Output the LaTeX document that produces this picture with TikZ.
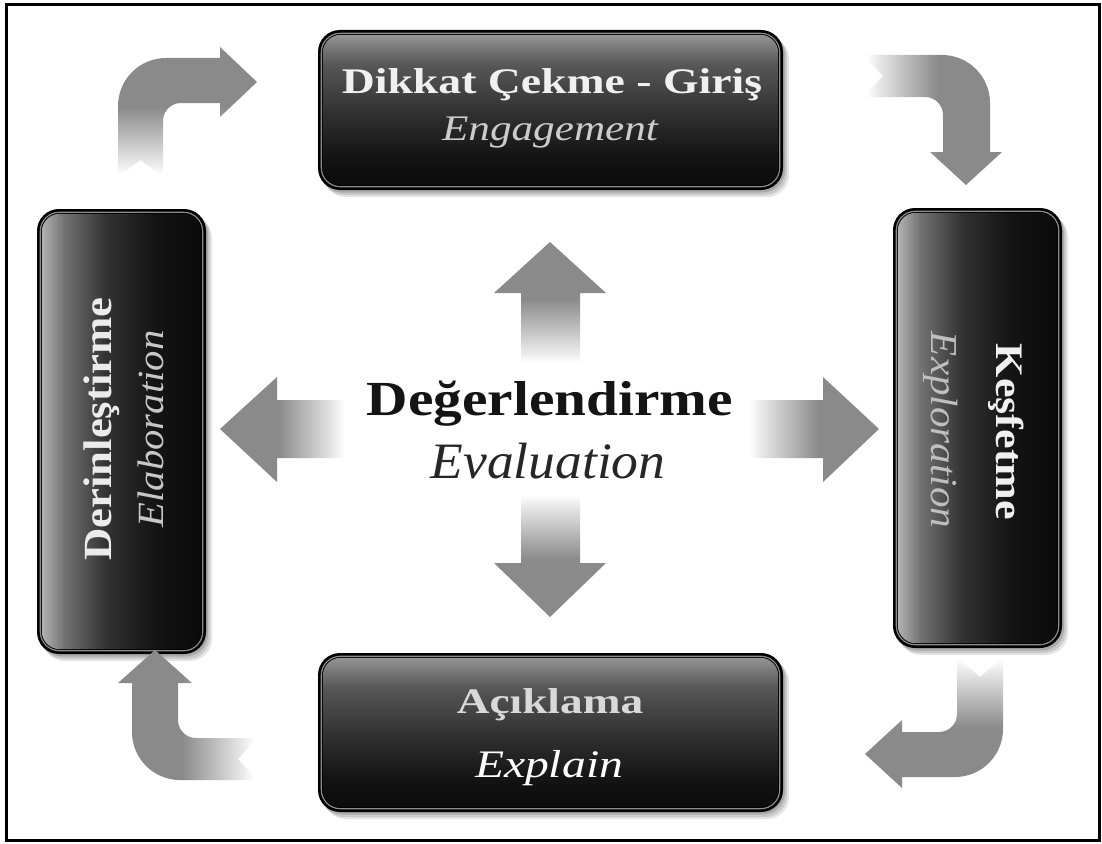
\documentclass[tikz,border=0pt]{standalone}
\usepackage{fontspec}
\setmainfont{Liberation Serif}
\usepackage{graphicx}
\definecolor{ag}{gray}{0.54}
\pgfdeclareverticalshading{fadeup}{100bp}{color(0bp)=(white); color(26bp)=(white); color(30bp)=(black!8); color(52bp)=(ag); color(100bp)=(ag)}
\pgfdeclareverticalshading{boxv}{100bp}{color(0bp)=(black!96); color(25bp)=(black!96); color(35bp)=(black!92); color(50bp)=(black!80); color(65bp)=(black!66); color(71bp)=(black!52); color(75bp)=(black!42); color(100bp)=(black!42)}
\pgfdeclarehorizontalshading{boxh}{100bp}{color(0bp)=(black!30); color(25bp)=(black!30); color(32bp)=(black!55); color(45bp)=(black!80); color(60bp)=(black!92); color(75bp)=(black!96); color(100bp)=(black!96)}
\begin{document}
\begin{tikzpicture}[x=1pt,y=-1pt,
  boxout/.style={rectangle, rounded corners=22pt, fill=black, inner sep=0pt,
    preaction={fill=black, opacity=.10, transform canvas={shift={(6pt,-7pt)}}},
    preaction={fill=black, opacity=.12, transform canvas={shift={(4pt,-5pt)}}},
    preaction={fill=black, opacity=.15, transform canvas={shift={(2pt,-2.5pt)}}}},
  rim/.style={draw=black!45, line width=1.2pt, rounded corners=19pt},
  blockarrow/.style={shading=fadeup},
  label/.style={anchor=base, inner sep=0pt}
]
\useasboundingbox (0,0) rectangle (1102,843);
\fill[white] (0,0) rectangle (1102,843);
\draw[line width=3pt] (6.5,4.5) rectangle (1099.5,840.5);

% ---- boxes ----
\node[boxout, minimum width=465pt, minimum height=160pt] (eng) at (550.5,110) {};
\node[boxout, minimum width=465pt, minimum height=159pt] (expl) at (550.5,732.5) {};
\node[boxout, minimum width=169pt, minimum height=445pt] (elab) at (121.5,431.5) {};
\node[boxout, minimum width=169pt, minimum height=440pt] (explo) at (977.5,428) {};

\draw[rim] ([shift={(3.5,3.5)}]eng.north west) rectangle ([shift={(-3.5,-3.5)}]eng.south east);
\shade[shading=boxv, rounded corners=18pt] ([shift={(5,5)}]eng.north west) rectangle ([shift={(-5,-5)}]eng.south east);
\draw[rim] ([shift={(3.5,3.5)}]expl.north west) rectangle ([shift={(-3.5,-3.5)}]expl.south east);
\shade[shading=boxv, rounded corners=18pt] ([shift={(5,5)}]expl.north west) rectangle ([shift={(-5,-5)}]expl.south east);
\draw[rim] ([shift={(3.5,3.5)}]elab.north west) rectangle ([shift={(-3.5,-3.5)}]elab.south east);
\shade[shading=boxh, rounded corners=18pt] ([shift={(5,5)}]elab.north west) rectangle ([shift={(-5,-5)}]elab.south east);
\draw[rim] ([shift={(3.5,3.5)}]explo.north west) rectangle ([shift={(-3.5,-3.5)}]explo.south east);
\shade[shading=boxh, rounded corners=18pt] ([shift={(5,5)}]explo.north west) rectangle ([shift={(-5,-5)}]explo.south east);

% ---- box texts ----
\node[label, text=white!94!black] (t1) at (552,93) {\scalebox{1.27}[1]{\fontsize{36}{40}\selectfont\bfseries Dikkat Çekme - Giriş}};
\node[label, text=black!20] (t2) at (550,140) {\scalebox{1.2}[1]{\fontsize{36}{40}\selectfont\itshape Engagement}};
\node[label, text=black!15] (t3) at (550,713) {\scalebox{1.26}[1]{\fontsize{36}{40}\selectfont\bfseries Açıklama}};
\node[label, text=white] (t4) at (549,777) {\scalebox{1.22}[1]{\fontsize{39}{42}\selectfont\itshape Explain}};
\node[label, rotate=90, text=black!8] (t7) at (111,429) {\scalebox{1.12}[1]{\fontsize{40}{44}\selectfont\bfseries Derinleştirme}};
\node[label, rotate=90, text=black!22] (t8) at (163,429) {\scalebox{1.1}[1]{\fontsize{37}{40}\selectfont\itshape Elaboration}};
\node[label, rotate=-90, text=white!94!black] (t9) at (996,432) {\scalebox{1.13}[1]{\fontsize{39}{42}\selectfont\bfseries Keşfetme}};
\node[label, rotate=-90, text=black!25] (t10) at (931,430) {\scalebox{1.08}[1]{\fontsize{38}{42}\selectfont\itshape Exploration}};

% ---- centre ----
\node[label, text=black!92] (t5) at (550,415) {\scalebox{1.17}[1]{\fontsize{49}{54}\selectfont\bfseries Değerlendirme}};
\node[label, text=black!85] (t6) at (548,478) {\scalebox{1.05}[1]{\fontsize{51}{56}\selectfont\itshape Evaluation}};

% central block arrows
\shade[blockarrow, shading angle=0] (521,365) -- (521,293) -- (494,293) -- (550,242) -- (606,293) -- (580,293) -- (580,365) -- cycle;
\shade[blockarrow, shading angle=180] (521,492) -- (580,492) -- (580,563) -- (606,563) -- (550,617) -- (494,563) -- (521,563) -- cycle;
\shade[blockarrow, shading angle=90] (347,400) -- (277,400) -- (277,377) -- (220,429) -- (277,482) -- (277,458) -- (347,458) -- cycle;
\shade[blockarrow, shading angle=-90] (747,400) -- (823,400) -- (823,377) -- (879,429) -- (823,482) -- (823,458) -- (747,458) -- cycle;

% corner block arrows
\shade[blockarrow, shading angle=0] (118,177) [rounded corners=48pt] -- (118,58) [sharp corners] -- (220,58) -- (220,47) -- (257,82) -- (220,117) -- (220,103) [rounded corners=18pt] -- (163,103) [sharp corners] -- (163,177) -- (140.5,160) -- cycle;
\shade[blockarrow, shading angle=-90] (863,55) [rounded corners=48pt] -- (990,55) [sharp corners] -- (990,152) -- (1002,152) -- (966,185) -- (930,152) -- (943,152) [rounded corners=18pt] -- (943,97) [sharp corners] -- (863,97) -- (883,76) -- cycle;
\shade[blockarrow, shading angle=180] (957,657) -- (980,677) -- (1003,657) [rounded corners=48pt] -- (1003,777) [sharp corners] -- (902,777) -- (902,788) -- (865,754) -- (902,720) -- (902,732) [rounded corners=18pt] -- (957,732) [sharp corners] -- cycle;
\shade[blockarrow, shading angle=90] (257,738) -- (238,759) -- (257,780) [rounded corners=48pt] -- (132,780) [sharp corners] -- (132,683) -- (118,683) -- (155,650) -- (192,683) -- (178,683) [rounded corners=18pt] -- (178,738) [sharp corners] -- cycle;
\end{tikzpicture}
\end{document}
